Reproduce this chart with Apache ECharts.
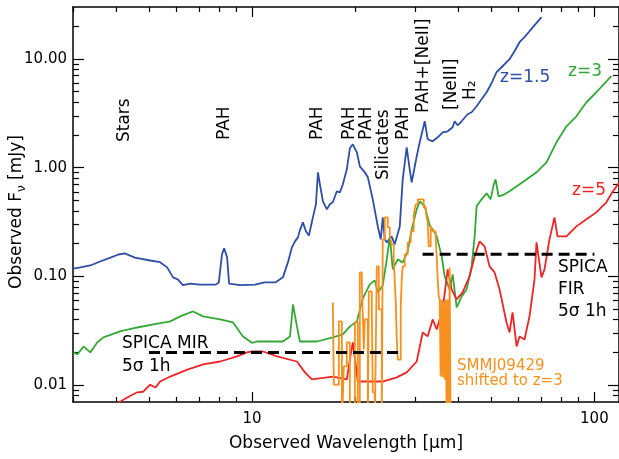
<!DOCTYPE html>
<html>
<head>
<meta charset="utf-8">
<title>SPICA spectra</title>
<script src="https://cdn.jsdelivr.net/npm/echarts@6/dist/echarts.min.js"></script>
<style>
  html, body { margin: 0; padding: 0; background: #fff; }
  #main { width: 619px; height: 459px; }
</style>
</head>
<body>
<div id="main"></div>
<script type="text/javascript">
// template spectra, [wavelength um, flux mJy]
var z15 = [[3.0,0.118],[3.15,0.121],[3.37,0.126],[3.6,0.137],[3.86,0.149],[4.07,0.159],[4.25,0.163],[4.55,0.149],[5.04,0.140],[5.39,0.135],[5.65,0.121],[5.88,0.098],[6.07,0.094],[6.28,0.083],[6.6,0.086],[7.05,0.084],[7.84,0.084],[8.0,0.088],[8.17,0.159],[8.29,0.181],[8.46,0.149],[8.57,0.086],[9.23,0.083],[10.2,0.084],[10.9,0.088],[11.7,0.088],[12.31,0.098],[12.73,0.1345],[13.08,0.185],[13.35,0.21],[13.62,0.2285],[13.8,0.265],[14.08,0.314],[14.37,0.26],[14.66,0.238],[15.06,0.349],[15.37,0.46],[15.58,0.906],[15.79,0.70],[16.11,0.49],[16.55,0.4135],[16.88,0.46],[17.22,0.48],[17.69,0.606],[18.06,0.593],[18.42,0.7025],[18.92,0.965],[19.31,1.506],[19.7,1.64],[20.24,1.384],[20.65,1.028],[21.35,0.906],[21.79,0.815],[22.53,0.511],[23.3,0.288],[23.77,0.219],[24.09,0.349],[24.42,0.219],[24.75,0.2055],[25.59,0.233],[26.11,0.197],[27.01,0.288],[27.55,0.781],[28.3,1.539],[28.88,0.965],[29.27,0.733],[30.27,1.271],[30.89,1.711],[31.95,2.67],[32.6,1.823],[33.71,1.747],[34.86,1.901],[36.05,2.114],[37.28,2.16],[38.55,2.35],[39.06,2.67],[39.86,2.45],[40.95,2.67],[42.63,3.095],[43.79,3.229],[45.29,3.667],[46.83,4.254],[48.43,4.934],[50.08,5.97],[51.79,7.538],[53.92,8.557],[56.52,9.93],[58.45,11.76],[60.44,14.23],[62.5,15.83],[64.64,17.97],[67.3,20.84],[70.07,24.18]];

var z3 = [[3.01,0.020],[3.09,0.0192],[3.22,0.0227],[3.37,0.020],[3.53,0.0247],[3.68,0.0275],[4.12,0.0312],[4.62,0.0339],[5.15,0.0362],[5.77,0.0386],[6.17,0.0429],[6.73,0.0476],[7.2,0.0429],[8.07,0.0402],[8.8,0.0377],[9.41,0.028],[10.0,0.0245],[10.34,0.0252],[12.31,0.0252],[12.91,0.028],[13.17,0.0552],[13.53,0.0347],[13.8,0.0252],[15.47,0.0252],[17.22,0.0275],[18.42,0.0293],[19.31,0.0347],[20.24,0.0386],[21.07,0.0628],[22.08,0.0844],[22.84,0.0919],[23.3,0.0713],[24.09,0.0826],[24.75,0.1434],[25.26,0.2334],[25.77,0.116],[26.65,0.1434],[27.55,0.1345],[28.49,0.1698],[29.27,0.2707],[30.27,0.4135],[30.89,0.49],[31.95,0.4407],[33.03,0.2947],[34.17,0.2541],[34.63,0.2334],[35.81,0.1528],[36.54,0.1],[37.78,0.0759],[38.55,0.1043],[39.6,0.0519],[40.95,0.0655],[42.35,0.0759],[43.79,0.1236],[44.69,0.2334],[45.29,0.4407],[46.83,0.5112],[48.43,0.5804],[49.75,0.5112],[50.76,0.6877],[51.45,0.781],[52.5,0.5447],[54.65,0.5683],[56.52,0.6057],[61.68,0.733],[67.75,0.906],[72.45,1.12],[77.47,1.711],[82.86,2.401],[88.6,2.967],[94.78,3.993],[101.3,4.934],[112.1,6.927]];

var z5 = [[4.07,0.0069],[4.32,0.0077],[4.62,0.0086],[4.81,0.0087],[5.04,0.0101],[5.22,0.0095],[5.39,0.0108],[5.77,0.0120],[6.47,0.0139],[7.2,0.0155],[8.07,0.0165],[9.04,0.0184],[9.67,0.0200],[10.0,0.0204],[10.77,0.0204],[11.83,0.0184],[13.53,0.0165],[14.27,0.0131],[14.96,0.0113],[17.22,0.0120],[18.92,0.0113],[19.31,0.0172],[19.7,0.0247],[20.37,0.0108],[24.09,0.0108],[26.47,0.0118],[28.3,0.0131],[30.27,0.0165],[31.52,0.0305],[32.6,0.0281],[33.71,0.0402],[34.63,0.0325],[36.05,0.0497],[37.28,0.116],[38.29,0.0759],[39.6,0.0614],[41.22,0.0713],[43.21,0.1],[44.69,0.1528],[46.21,0.21],[47.78,0.1888],[49.42,0.1236],[51.11,0.1088],[52.85,0.0759],[55.38,0.0377],[56.52,0.0305],[57.68,0.0466],[59.27,0.0227],[60.44,0.028],[62.5,0.0263],[64.64,0.0429],[66.85,0.0938],[67.75,0.2055],[70.07,0.0979],[71.49,0.116],[73.93,0.2191],[76.45,0.3491],[78.0,0.2334],[82.86,0.2334],[88.6,0.2884],[94.78,0.3346],[101.3,0.388],[108.4,0.48],[112.8,0.593],[118.3,0.733]];

// SMMJ09429 shifted to z=3 (binned, drawn as steps)
var smm = [[17.22,0.0576],[17.34,0.0101],[17.93,0.0386],[18.30,0.004],[18.54,0.0149],[18.92,0.0247],[19.31,0.004],[19.97,0.0377],[20.37,0.004],[20.65,0.1088],[20.93,0.0881],[21.21,0.0213],[21.35,0.0402],[21.79,0.004],[21.94,0.0728],[22.38,0.0466],[22.53,0.0086],[22.84,0.004],[23.14,0.1236],[23.46,0.0497],[23.93,0.004],[24.09,0.219],[24.42,0.349],[24.92,0.2825],[25.26,0.2334],[25.59,0.197],[25.94,0.1434],[26.29,0.0576],[26.47,0.0263],[26.65,0.0172],[27.19,0.053],[27.37,0.0938],[27.55,0.1236],[27.93,0.1594],[28.49,0.2055],[29.08,0.2595],[29.67,0.372],[30.07,0.46],[30.48,0.511],[31.73,0.4315],[32.17,0.388],[32.6,0.314],[32.81,0.1888],[33.26,0.2884],[33.71,0.2595],[34.4,0.219],[34.63,0.1528],[34.86,0.0938],[35.1,0.0655],[35.33,0.0614],[35.56,0.012],[35.81,0.0614],[36.05,0.0118],[36.29,0.0589],[36.54,0.0113],[36.78,0.0614],[37.03,0.004],[37.28,0.0614],[37.52,0.004],[37.78,0.121],[38.03,0.004],[38.29,0.004]];

// SPICA 5 sigma 1h sensitivities
var mirLimit = [[5.0,0.02],[27.2,0.02]];
var firLimit = [[31.5,0.16],[100,0.16]];

// tick values
var xMajor = [10, 100];
var xMinor = [3,4,5,6,7,8,9,20,30,40,50,60,70,80,90];
var yMajor = [0.01, 0.1, 1, 10];
var yMinor = [0.008,0.009,0.02,0.03,0.04,0.05,0.06,0.07,0.08,0.09,0.2,0.3,0.4,0.5,0.6,0.7,0.8,0.9,2,3,4,5,6,7,8,9,20];

var FONT = 'DejaVu Sans';
var myChart = echarts.init(document.getElementById('main'));

function xAx(pos, vals, len, lab) {
  return {
    type: 'log', logBase: 10, min: 3, max: 118, position: pos,
    axisLine: { show: len > 6, onZero: false, lineStyle: { color: '#000', width: 1.5 } },
    axisTick: { inside: true, length: len, customValues: vals, lineStyle: { color: '#000', width: 1.2 } },
    axisLabel: { show: lab, customValues: vals, margin: 10, color: '#000', fontFamily: FONT, fontSize: 15,
      formatter: function (v) { return String(v); } },
    splitLine: { show: false }, minorTick: { show: false }
  };
}
function yAx(pos, vals, len, lab) {
  return {
    type: 'log', logBase: 10, min: 0.007, max: 30, position: pos,
    axisLine: { show: len > 7, onZero: false, lineStyle: { color: '#000', width: 1.5 } },
    axisTick: { inside: true, length: len, customValues: vals, lineStyle: { color: '#000', width: 1.2 } },
    axisLabel: { show: lab, customValues: vals, margin: 6, color: '#000', fontFamily: FONT, fontSize: 15,
      formatter: function (v) { return v.toFixed(2); } },
    splitLine: { show: false }, minorTick: { show: false }
  };
}

// rotated annotation, anchored at the bottom end of the text
function vtext(str, x, y) {
  return { type: 'text', x: x, y: y, rotation: Math.PI / 2, z: 100,
    style: { text: str, fill: '#000', fontFamily: FONT, fontSize: 17,
      align: 'left', verticalAlign: 'middle', textAlign: 'left', textVerticalAlign: 'middle' } };
}
function htext(str, x, y, color, size) {
  return { type: 'text', x: x, y: y, z: 100,
    style: { text: str, fill: color, fontFamily: FONT, fontSize: size,
      align: 'left', verticalAlign: 'middle', textAlign: 'left', textVerticalAlign: 'middle' } };
}

var option = {
  animation: false,
  backgroundColor: '#fff',
  grid: { left: 73, top: 7, width: 547, height: 395, containLabel: false },
  xAxis: [
    xAx('bottom', xMajor, 10, true),
    xAx('bottom', xMinor, 5, false),
    xAx('top', xMajor, 10, false),
    xAx('top', xMinor, 5, false)
  ],
  yAxis: [
    yAx('left', yMajor, 11, true),
    yAx('left', yMinor, 6, false),
    yAx('right', yMajor, 11, false),
    yAx('right', yMinor, 6, false)
  ],
  series: [
    { name: 'z=1.5', type: 'line', data: z15, symbol: 'none', clip: true,
      lineStyle: { color: '#2f4fa5', width: 1.8 }, z: 3 },
    { name: 'z=3', type: 'line', data: z3, symbol: 'none', clip: true,
      lineStyle: { color: '#34a837', width: 1.8 }, z: 3 },
    { name: 'z=5', type: 'line', data: z5, symbol: 'none', clip: true,
      lineStyle: { color: '#ec2527', width: 1.8 }, z: 3 },
    { name: 'SMMJ09429', type: 'line', step: 'end', data: smm, symbol: 'none', clip: true,
      lineStyle: { color: '#f7901e', width: 1.8 }, z: 4 },
    { name: 'MIR', type: 'line', data: mirLimit, symbol: 'none', clip: true,
      lineStyle: { color: '#000', width: 3, type: [11, 6] }, z: 5 },
    { name: 'FIR', type: 'line', data: firLimit, symbol: 'none', clip: true,
      lineStyle: { color: '#000', width: 3, type: [11, 6] }, z: 5 }
  ],
  graphic: [
    vtext('Stars', 125, 142),
    vtext('PAH', 225, 140),
    vtext('PAH', 318, 140),
    vtext('PAH', 350, 140),
    vtext('PAH', 367, 140),
    vtext('Silicates', 384, 180),
    vtext('PAH', 404, 140),
    vtext('PAH+[NeII]', 424, 113),
    vtext('[NeIII]', 452, 110),
    vtext('H\u2082', 471, 100),
    htext('z=1.5', 500, 78, '#2f4fa5', 17),
    htext('z=3', 568, 72, '#34a837', 17),
    htext('z=5', 572, 191, '#ec2527', 17),
    htext('SPICA MIR', 122, 344, '#000', 17),
    htext('5\u03c3 1h', 122, 367, '#000', 17),
    htext('SPICA', 558, 268, '#000', 17),
    htext('FIR', 558, 290, '#000', 17),
    htext('5\u03c3 1h', 558, 312, '#000', 17),
    htext('SMMJ09429', 457, 366, '#f7901e', 15),
    htext('shifted to z=3', 457, 381, '#f7901e', 15),
    // axis titles
    { type: 'text', x: 346, y: 444, z: 100,
      style: { text: 'Observed Wavelength [\u03bcm]', fill: '#000', fontFamily: FONT, fontSize: 17,
        align: 'center', verticalAlign: 'middle', textAlign: 'center', textVerticalAlign: 'middle' } },
    { type: 'text', x: 17, y: 212, rotation: Math.PI / 2, z: 100,
      style: { text: '{a|Observed F}{s|\u03bd}{a| [mJy]}', fill: '#000',
        align: 'center', verticalAlign: 'middle', textAlign: 'center', textVerticalAlign: 'middle',
        rich: {
          a: { fontFamily: FONT, fontSize: 17, lineHeight: 22, fill: '#000' },
          s: { fontFamily: FONT, fontSize: 12, lineHeight: 12, verticalAlign: 'bottom', fill: '#000' }
        } } }
  ]
};
myChart.setOption(option);
</script>
</body>
</html>
